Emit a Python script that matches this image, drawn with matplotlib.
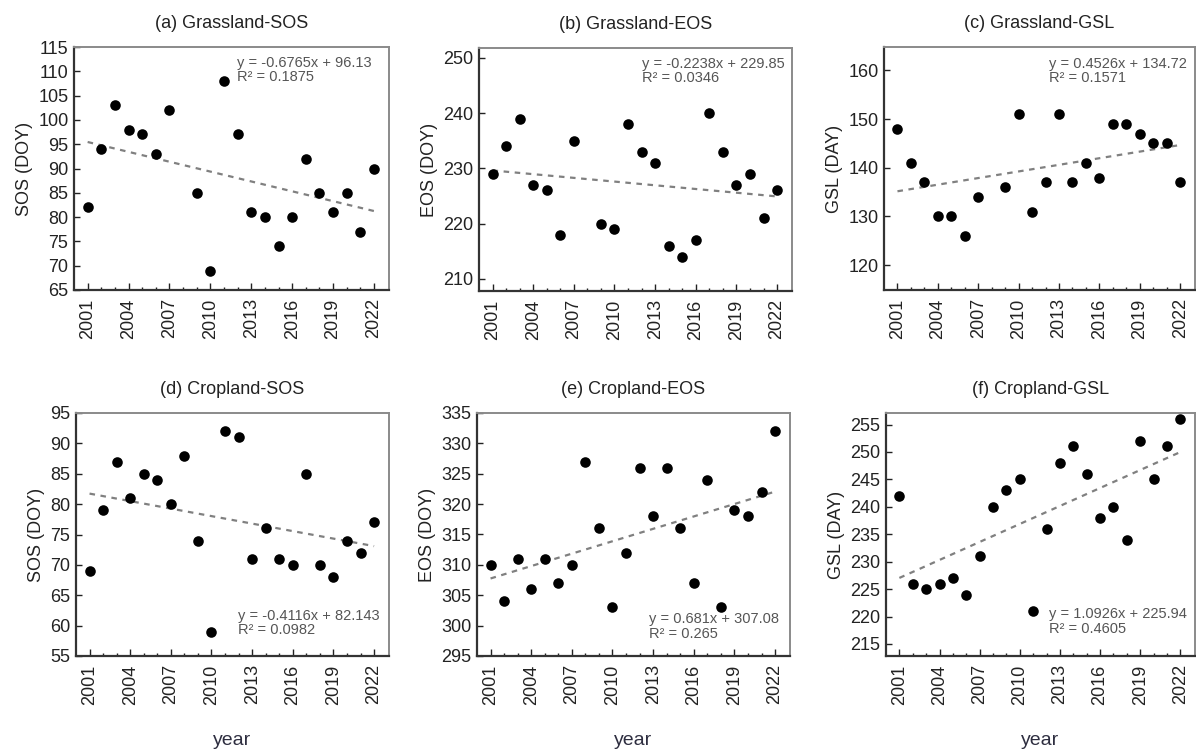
import numpy as np
import matplotlib
matplotlib.use("Agg")
import matplotlib.pyplot as plt
from matplotlib.ticker import MultipleLocator

plt.rcParams["font.family"] = ["Liberation Sans", "DejaVu Sans"]

# grassland series have no value for 2008
grass_years = [2001, 2002, 2003, 2004, 2005, 2006, 2007, 2009, 2010, 2011, 2012,
               2013, 2014, 2015, 2016, 2017, 2018, 2019, 2020, 2021, 2022]
crop_years = list(range(2001, 2023))

grass_sos = [82, 94, 103, 98, 97, 93, 102, 85, 69, 108, 97,
             81, 80, 74, 80, 92, 85, 81, 85, 77, 90]
grass_eos = [229, 234, 239, 227, 226, 218, 235, 220, 219, 238, 233,
             231, 216, 214, 217, 240, 233, 227, 229, 221, 226]
grass_gsl = [148, 141, 137, 130, 130, 126, 134, 136, 151, 131, 137,
             151, 137, 141, 138, 149, 149, 147, 145, 145, 137]
crop_sos = [69, 79, 87, 81, 85, 84, 80, 88, 74, 59, 92,
            91, 71, 76, 71, 70, 85, 70, 68, 74, 72, 77]
crop_eos = [310, 304, 311, 306, 311, 307, 310, 327, 316, 303, 312,
            326, 318, 326, 316, 307, 324, 303, 319, 318, 322, 332]
crop_gsl = [242, 226, 225, 226, 227, 224, 231, 240, 243, 245, 221,
            236, 248, 251, 246, 238, 240, 234, 252, 245, 251, 256]

# fitted trends (x = year - 2000)
slopes = [-0.6765, -0.2238, 0.4526, -0.4116, 0.681, 1.0926]
intercepts = [96.13, 229.85, 134.72, 82.143, 307.08, 225.94]
r2_labels = ["0.1875", "0.0346", "0.1571", "0.0982", "0.265", "0.4605"]
eq_labels = ["y = -0.6765x + 96.13", "y = -0.2238x + 229.85", "y = 0.4526x + 134.72",
             "y = -0.4116x + 82.143", "y = 0.681x + 307.08", "y = 1.0926x + 225.94"]

titles = ["(a) Grassland-SOS", "(b) Grassland-EOS", "(c) Grassland-GSL",
          "(d) Cropland-SOS", "(e) Cropland-EOS", "(f) Cropland-GSL"]
ylabels = ["SOS (DOY)", "EOS (DOY)", "GSL (DAY)", "SOS (DOY)", "EOS (DOY)", "GSL (DAY)"]
ylims = [(65, 115), (207.8, 251.8), (114.9, 164.8), (55, 95), (295, 335), (212.8, 257.1)]
ysteps = [5, 10, 10, 5, 5, 5]
eq_pos = [(0.517, 0.965), (0.52, 0.965), (0.532, 0.96),
          (0.517, 0.195), (0.549, 0.18), (0.529, 0.2)]

series = [(grass_years, grass_sos), (grass_years, grass_eos), (grass_years, grass_gsl),
          (crop_years, crop_sos), (crop_years, crop_eos), (crop_years, crop_gsl)]

W, H = 1196, 749
boxes = [(74, 47, 389, 290), (479, 48, 792, 291), (884, 47, 1195, 290),
         (76, 413, 389, 656), (477, 413, 790, 656), (886, 413, 1195, 656)]

fig = plt.figure(figsize=(W / 100, H / 100), dpi=100)

for i in range(6):
    l, t, r, b = boxes[i]
    ax = fig.add_axes([l / W, 1 - b / H, (r - l) / W, (b - t) / H])
    yrs, vals = series[i]
    ax.scatter(yrs, vals, s=58, color="black", zorder=3, linewidths=0)
    xs = np.array([2001, 2022])
    ax.plot(xs, slopes[i] * (xs - 2000) + intercepts[i], linestyle=(0, (2.5, 2.5)),
            color="#808080", linewidth=1.6, zorder=2)
    ax.set_xlim(2000.0, 2023.1)
    ax.set_ylim(*ylims[i])
    ax.set_xticks(range(2001, 2023, 3))
    ax.set_xticks(range(2001, 2023), minor=True)
    ax.yaxis.set_major_locator(MultipleLocator(ysteps[i]))
    ax.tick_params(axis="x", which="major", direction="in", length=5, width=1,
                   labelsize=13, labelrotation=90, pad=6, colors="#222222")
    ax.tick_params(axis="x", which="minor", direction="in", length=2.5, width=1,
                   color="#222222")
    ax.tick_params(axis="y", direction="in", length=4, width=1, labelsize=13,
                   pad=4, colors="#222222")
    for side in ["left", "bottom"]:
        ax.spines[side].set_color("#333333")
        ax.spines[side].set_linewidth(1.6)
    for side in ["top", "right"]:
        ax.spines[side].set_color("#8a8a8a")
        ax.spines[side].set_linewidth(1.4)
    ax.set_title(titles[i], fontsize=13, color="#222222", pad=14)
    ax.set_ylabel(ylabels[i], fontsize=13, color="#222222", labelpad=4)
    ex, ey = eq_pos[i]
    ax.text(ex, ey, eq_labels[i] + "\nR\u00b2 = " + r2_labels[i], transform=ax.transAxes,
            ha="left", va="top", fontsize=10.5, color="#555555", linespacing=1.05)
    if i >= 3:
        ax.set_xlabel("year", fontsize=14, color="#2e2e40", labelpad=20)

fig.savefig("out.png", dpi=100)
